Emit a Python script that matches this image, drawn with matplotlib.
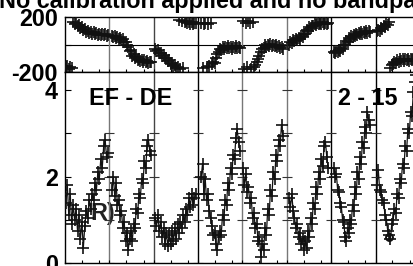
import numpy as np
import matplotlib
matplotlib.use("Agg")
import matplotlib.pyplot as plt

plt.rcParams['font.family'] = ['Liberation Sans', 'DejaVu Sans']
plt.rcParams['font.weight'] = 'bold'

# scan time ranges (in scan units) and per-scan samples
scan_start = [0.02, 1.06, 2.03, 3.07, 4.01, 5.05, 6.06, 7.03]
scan_end = [0.97, 1.94, 2.95, 3.94, 4.91, 5.93, 6.87, 7.91]

amp_0 = [1.4, 1.8, 1.1, 1.6, 0.9, 1.35, 1.0, 1.25, 0.75, 1.1, 0.55, 0.95, 0.35, 0.85, 1.2,
         1.05, 1.45, 1.25, 1.6, 1.45, 1.85, 1.7, 2.1, 1.95, 2.4, 2.2, 2.7, 2.85, 2.45, 2.55]
amp_1 = [1.7, 2.0, 1.55, 1.85, 1.35, 1.45, 1.1, 1.2, 0.8, 0.95, 0.5, 0.7, 0.3, 0.55, 0.75,
         0.5, 0.9, 0.8, 1.25, 1.15, 1.6, 1.5, 1.95, 1.85, 2.35, 2.2, 2.7, 2.85, 2.6, 2.5]
amp_2 = [1.05, 0.85, 1.1, 0.75, 0.95, 0.6, 0.8, 0.45, 0.7, 0.4, 0.65, 0.45, 0.75, 0.5, 0.8,
         0.55, 0.9, 0.7, 0.95, 0.8, 1.1, 0.95, 1.25, 1.1, 1.5, 1.3, 1.6, 1.35, 1.5, 1.6]
amp_3 = [2.0, 2.3, 1.6, 1.95, 1.45, 1.6, 1.2, 1.05, 0.85, 0.65, 0.7, 0.45, 0.3, 0.6, 0.75,
         0.65, 1.1, 1.0, 1.45, 1.35, 1.85, 1.7, 2.2, 2.05, 2.5, 2.4, 2.9, 3.1, 2.8, 2.6]
amp_4 = [2.2, 1.8, 2.05, 1.65, 1.75, 1.4, 1.5, 1.05, 1.15, 0.8, 0.9, 0.5, 0.6, 0.15, 0.45,
         0.3, 0.8, 0.65, 1.25, 1.1, 1.7, 1.55, 2.1, 1.95, 2.5, 2.35, 2.85, 2.7, 3.2, 2.95]
amp_5 = [1.5, 1.3, 1.6, 1.2, 1.05, 0.8, 0.9, 0.6, 0.7, 0.45, 0.55, 0.3, 0.5, 0.35, 0.75,
         0.6, 1.05, 0.9, 1.4, 1.25, 1.75, 1.6, 2.1, 1.95, 2.4, 2.25, 2.7, 2.8, 2.45, 2.2]
amp_6 = [2.2, 2.0, 2.05, 1.7, 1.65, 1.4, 1.3, 1.0, 0.95, 0.6, 0.5, 0.8, 0.7, 1.0, 0.9,
         1.35, 1.2, 1.75, 1.6, 2.1, 1.95, 2.45, 2.3, 2.8, 2.65, 3.15, 3.0, 3.5, 3.3, 3.2]
amp_7 = [1.8, 2.15, 1.7, 1.65, 1.45, 1.4, 1.1, 1.0, 0.75, 0.65, 0.55, 0.9, 1.0, 1.25, 1.15,
         1.6, 1.5, 1.95, 1.85, 2.3, 2.2, 2.7, 2.6, 3.1, 3.0, 3.5, 3.4, 3.95, 4.2, 4.35]

phase_0 = [-165, -155, -175, -160, -170, 162, 150, 156, 135, 140, 120, 126, 104, 110, 92,
           98, 84, 92, 80, 88, 76, 84, 72, 80, 70, 76, 66, 74, 64, 70]
phase_1 = [65, 55, 60, 48, 56, 42, 50, 34, 38, 15, 20, -5, -20, -45, -40,
           -80, -70, -100, -92, -112, -104, -120, -110, -126, -116, -130, -120, -134, -124, -130]
phase_2 = [-30, -45, -42, -62, -60, -82, -78, -100, -98, -120, -115, -140, -135, -155, -150,
           -168, -160, 175, -178, 168, -172, 165, 172, 158, 165, 152, 162, 150, 160, 155]
phase_3 = [160, -172, 150, 155, -162, 148, -155, 158, -145, -130, -135, -100, -70, -55, -35,
           -42, -20, -32, -15, -28, -12, -25, -15, -30, -18, -26, -14, -28, -16, -24]
phase_4 = [168, -175, 160, -165, 170, 158, -178, 165, -160, -150, -125, -105, -80, -55, -30,
           -22, -5, -15, 0, -12, 2, -10, 0, -14, -4, -16, -10, -25, -20, -35]
phase_5 = [0, 15, 12, 30, 22, 40, 30, 48, 40, 62, 58, 80, 78, 104, 100,
           125, 118, 138, 132, 148, 140, 155, 148, 160, 150, 162, 152, 160, 150, 158]
phase_6 = [-55, -65, -45, -58, -38, -48, -25, -30, 0, -5, 25, 20, 45, 40, 60,
           56, 72, 64, 80, 70, 86, 76, 90, 80, 94, 84, 96, 86, 98, 90]
phase_7 = [95, 108, 100, 120, 115, 132, 128, 148, 142, 165, -170, -150, -140, -128, -132,
           -115, -125, -108, -120, -105, -118, -106, -116, -104, -118, -108, -114, -104, -118, -110]

flag_x = [7.30]
flag_amp = [0.6]

amps = [amp_0, amp_1, amp_2, amp_3, amp_4, amp_5, amp_6, amp_7]
phases = [phase_0, phase_1, phase_2, phase_3, phase_4, phase_5, phase_6, phase_7]

W, H = 414, 266
fig = plt.figure(figsize=(W / 100, H / 100), dpi=100)
ax_ph = fig.add_axes([65 / W, 1 - 72 / H, 355 / W, 55 / H])
ax_amp = fig.add_axes([65 / W, 1 - 263 / H, 355 / W, 191 / H])

sep_colors = ['#777777', '#444444', '#000000', '#777777', '#777777', '#000000', '#000000']

for ax in (ax_ph, ax_amp):
    ax.set_xlim(0, 8)
    for s in ax.spines.values():
        s.set_linewidth(1.0)
    for k, c in enumerate(sep_colors):
        ax.axvline(k + 1, color=c, lw=1.0, zorder=1.5)
    xt = []
    for k in range(8):
        xt += [k, k + 0.38, k + 0.77]
    ax.set_xticks(xt)
    ax.tick_params(axis='x', direction='in', length=2.5, width=0.8, labelbottom=False)
    ax.tick_params(axis='y', direction='in', length=4, width=0.8, labelsize=16.8, pad=5)

for k in range(8):
    t = np.linspace(scan_start[k], scan_end[k], len(amps[k]))
    ax_amp.plot(t, amps[k], color='#111111', lw=0.9, marker='+', ms=8, mew=1.2, zorder=3)
    ax_ph.plot(t, phases[k], color='#111111', ls='none', marker='+', ms=8, mew=1.2, zorder=3)

ax_amp.plot(flag_x, flag_amp, ls='none', marker='o', ms=5, mfc='none', mec='#111111', mew=1.4, zorder=4)

# little ticks on the scan separators
for k in range(1, 8):
    ax_amp.plot([k] * 5, [0, 1, 2, 3, 4], ls='none', marker='_', ms=6.5, mew=0.8, color='#333333', zorder=2)

ax_ph.set_ylim(-200, 200)
ax_ph.set_yticks([-200, 0, 200])
ax_ph.set_yticklabels(['-200', '', '200'])
ax_ph.axhline(0, color='black', lw=0.8, zorder=1)

ax_amp.set_ylim(0, 4.42)
ax_amp.set_yticks([0, 1, 2, 3, 4])
ax_amp.set_yticklabels(['0', '', '2', '', '4'])

for lab in ax_ph.get_yticklabels() + ax_amp.get_yticklabels():
    lab.set_fontweight('bold')

fig.text(-1 / W, 1 - 8 / H, 'No calibration applied and no bandpass applied',
         fontsize=16.8, fontweight='bold', ha='left', va='baseline')
fig.text(89 / W, 1 - 105 / H, 'EF - DE', fontsize=16.8, fontweight='bold', ha='left', va='baseline')
fig.text(338 / W, 1 - 105 / H, '2 - 15', fontsize=16.8, fontweight='bold', ha='left', va='baseline')
ax_amp.text(90 / W, 1 - 220 / H, 'R)', transform=fig.transFigure, fontsize=16.8,
            fontweight='bold', ha='left', va='baseline', color='#222222', zorder=1)

fig.savefig('out.png', dpi=100)
